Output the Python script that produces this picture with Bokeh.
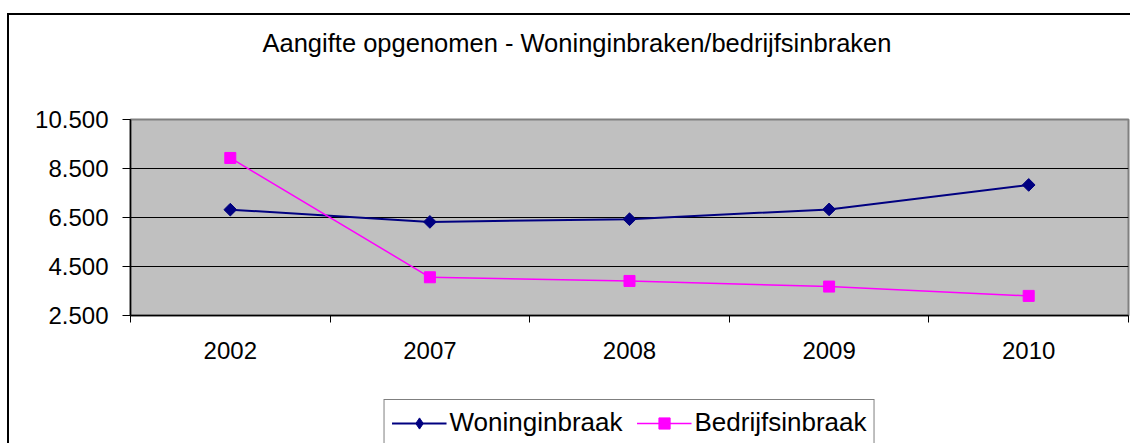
import math
from bokeh.plotting import figure
from bokeh.layouts import column
from bokeh.models import Range1d, FixedTicker, Legend, LegendItem, Title, LinearAxis
from bokeh.embed import file_html
from bokeh.resources import INLINE

# ---- data ----
years = ["2002", "2007", "2008", "2009", "2010"]
woninginbraak = [6820, 6320, 6430, 6830, 7830]
bedrijfsinbraak = [8930, 4060, 3910, 3680, 3300]
y_ticks = [2500, 4500, 6500, 8500, 10500]
y_tick_labels = ["2.500", "4.500", "6.500", "8.500", "10.500"]
title_text = "Aangifte opgenomen - Woninginbraken/bedrijfsinbraken"

FONT = "Liberation Sans"
NAVY = "#000080"
MAGENTA = "#FF00FF"
xs = [i + 0.5 for i in range(len(years))]

# ---------------- main chart ----------------
p = figure(frame_width=998, frame_height=196, output_backend="svg", toolbar_location=None,
           x_range=Range1d(0, len(years)), y_range=Range1d(y_ticks[0], y_ticks[-1]),
           min_border_left=121, min_border_right=2, min_border_top=104,
           min_border_bottom=84)
p.background_fill_color = "#C0C0C0"
p.border_fill_color = "white"
p.outline_line_color = "#808080"
p.outline_line_width = 2

# empty spacer axis between the frame and the title
spacer = LinearAxis(ticker=FixedTicker(ticks=[]), axis_line_color=None,
                    major_tick_out=0, major_tick_in=0, minor_tick_out=0,
                    minor_tick_in=0, major_label_standoff=0,
                    axis_label=" ", axis_label_text_font_size="1px",
                    axis_label_standoff=54)
p.add_layout(spacer, "above")
p.add_layout(Title(text=title_text, align="left", offset=132, standoff=10,
                   text_font=FONT, text_font_size="25.5px",
                   text_font_style="normal", text_color="black"), "above")

# x axis: labels at category centres, tick marks at category boundaries
xa = p.below[0]
xa.ticker = FixedTicker(ticks=xs, minor_ticks=list(range(len(years) + 1)))
xa.major_label_overrides = {x: y for x, y in zip(xs, years)}
xa.major_tick_out = 0
xa.major_tick_in = 0
xa.minor_tick_out = 7
xa.minor_tick_in = 0
xa.minor_tick_line_color = "black"
xa.axis_line_color = "black"
xa.axis_line_width = 1.5
xa.major_label_standoff = 19
xa.major_label_text_font = FONT
xa.major_label_text_font_size = "24px"
xa.major_label_text_color = "black"

ya = p.left[0]
ya.ticker = FixedTicker(ticks=y_ticks)
ya.major_label_overrides = {t: l for t, l in zip(y_ticks, y_tick_labels)}
ya.major_tick_out = 8
ya.major_tick_in = 0
ya.minor_tick_out = 0
ya.minor_tick_in = 0
ya.major_tick_line_color = "black"
ya.axis_line_color = "black"
ya.axis_line_width = 1.5
ya.major_label_standoff = 14
ya.major_label_text_font = FONT
ya.major_label_text_font_size = "24px"
ya.major_label_text_color = "black"

p.xgrid.visible = False
p.ygrid.ticker = FixedTicker(ticks=y_ticks[1:-1])
p.ygrid.grid_line_color = "black"
p.ygrid.grid_line_width = 1

p.line(xs, woninginbraak, line_color=NAVY, line_width=2)
p.scatter(xs, woninginbraak, marker="square", angle=math.pi / 4, size=9,
          fill_color=NAVY, line_color=NAVY)
p.line(xs, bedrijfsinbraak, line_color=MAGENTA, line_width=1.5)
p.scatter(xs, bedrijfsinbraak, marker="square", size=11,
          fill_color=MAGENTA, line_color=MAGENTA)

# ---------------- legend strip ----------------
# same series drawn outside this strip's visible range; only the legend shows
lg = figure(frame_width=998, frame_height=44, output_backend="svg",
            toolbar_location=None, x_axis_type=None, y_axis_type=None,
            x_range=Range1d(-20, -10), y_range=Range1d(0, 1),
            min_border_left=121, min_border_right=2, min_border_top=0,
            min_border_bottom=0)
lg.grid.visible = False
lg.outline_line_color = None
lg.background_fill_color = "white"
lg.border_fill_color = "white"
rw = lg.line(xs, woninginbraak, line_color=NAVY, line_width=2)
sw = lg.scatter(xs, woninginbraak, marker="diamond", size=15,
                fill_color=NAVY, line_color=NAVY)
rb = lg.line(xs, bedrijfsinbraak, line_color=MAGENTA, line_width=1.5)
sb = lg.scatter(xs, bedrijfsinbraak, marker="square", size=11,
                fill_color=MAGENTA, line_color=MAGENTA)

legend = Legend(items=[LegendItem(label="Woninginbraak", renderers=[rw, sw]),
                       LegendItem(label="Bedrijfsinbraak", renderers=[rb, sb])],
                location="top_center", orientation="horizontal",
                border_line_color="black", border_line_width=1,
                background_fill_color="white", background_fill_alpha=1,
                label_text_font=FONT, label_text_font_size="26px",
                label_text_color="black",
                glyph_width=55, glyph_height=28, label_standoff=3,
                spacing=14, padding=7, margin=0, label_height=20)
lg.add_layout(legend)

layout = column(p, lg, spacing=0,
                styles={"margin-left": "7px", "margin-top": "13px",
                        "border-left": "2px solid black",
                        "border-top": "2px solid black"})

open("out.html", "w").write(file_html(layout, INLINE))
